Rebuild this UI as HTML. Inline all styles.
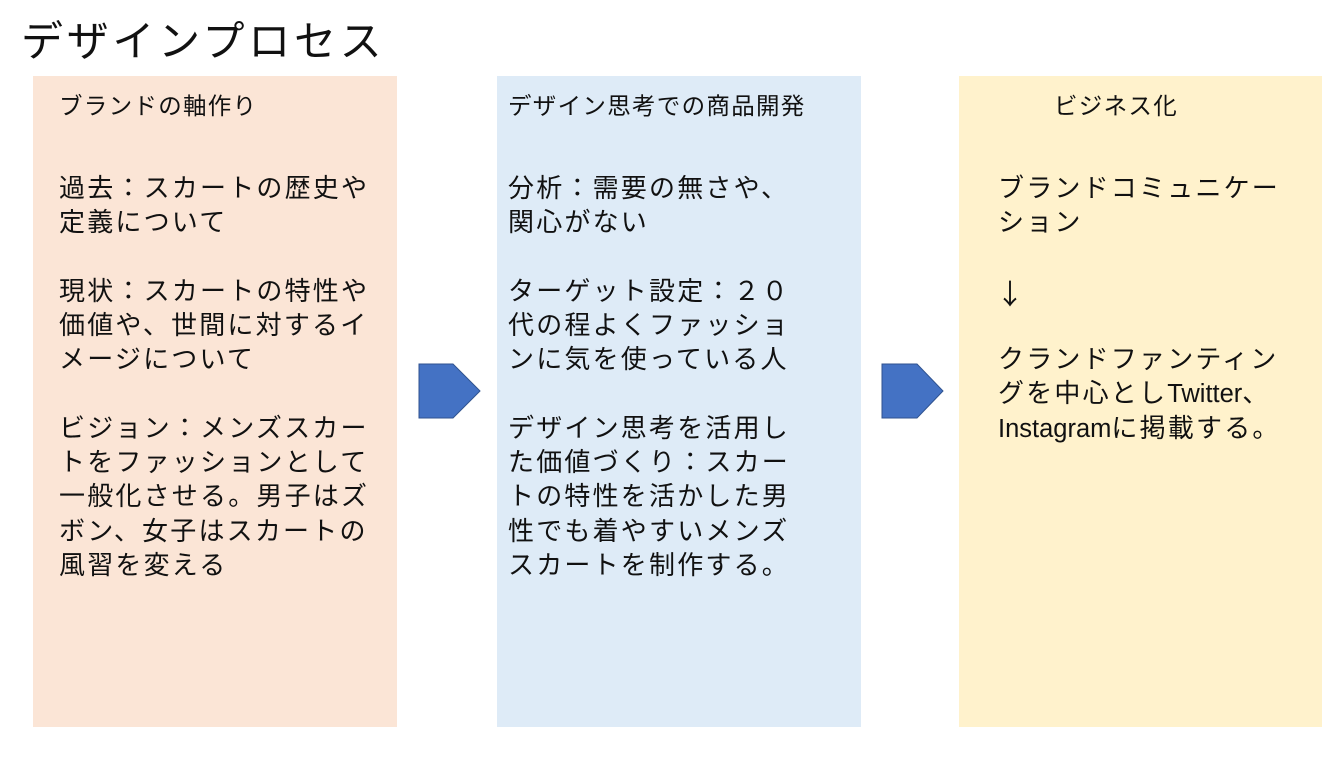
<!DOCTYPE html>
<html>
<head>
<meta charset="utf-8">
<style>
  html, body { margin: 0; padding: 0; background: #ffffff; }
  body { width: 1339px; height: 763px; overflow: hidden; }
  svg { display: block; }
  .t { font-family: "Liberation Sans", "Noto Sans CJK JP", sans-serif; fill: #111; }
  .title { font-size: 42px; letter-spacing: 3.7px; }
  .hd { font-size: 23.5px; letter-spacing: 1.3px; }
  .bd { font-size: 26px; letter-spacing: 2.2px; }
  .lat { font-family: "Liberation Sans", sans-serif; font-size: 25.5px; letter-spacing: 0px; }
  .arr { font-family: "Noto Sans CJK JP", "DejaVu Sans", sans-serif; font-size: 28px; fill: #111; }
</style>
</head>
<body>
<svg width="1339" height="763" viewBox="0 0 1339 763" xmlns="http://www.w3.org/2000/svg">
  <rect x="0" y="0" width="1339" height="763" fill="#ffffff"/>

  <!-- Title -->
  <text class="t title" x="21" y="56">デザインプロセス</text>

  <!-- Boxes -->
  <rect x="33" y="76" width="364" height="651" fill="#FBE5D6"/>
  <rect x="497" y="76" width="364" height="651" fill="#DEEBF7"/>
  <rect x="959" y="76" width="363" height="651" fill="#FFF2CC"/>

  <!-- Pentagon arrows -->
  <polygon points="419,364 453,364 480,391 453,418 419,418" fill="#4472C4" stroke="#2F528F" stroke-width="1"/>
  <polygon points="882,364 917,364 943,391 917,418 882,418" fill="#4472C4" stroke="#2F528F" stroke-width="1"/>

  <!-- Box 1 -->
  <text class="t hd" x="59" y="114">ブランドの軸作り</text>
  <text class="t bd" x="59" y="197">過去：スカートの歴史や</text>
  <text class="t bd" x="59" y="231">定義について</text>
  <text class="t bd" x="59" y="300">現状：スカートの特性や</text>
  <text class="t bd" x="59" y="334">価値や、世間に対するイ</text>
  <text class="t bd" x="59" y="368">メージについて</text>
  <text class="t bd" x="59" y="437">ビジョン：メンズスカー</text>
  <text class="t bd" x="59" y="471">トをファッションとして</text>
  <text class="t bd" x="59" y="505">一般化させる。男子はズ</text>
  <text class="t bd" x="59" y="540">ボン、女子はスカートの</text>
  <text class="t bd" x="59" y="574">風習を変える</text>

  <!-- Box 2 -->
  <text class="t hd" x="508" y="114">デザイン思考での商品開発</text>
  <text class="t bd" x="508" y="197">分析：需要の無さや、</text>
  <text class="t bd" x="508" y="231">関心がない</text>
  <text class="t bd" x="508" y="300">ターゲット設定：２０</text>
  <text class="t bd" x="508" y="334">代の程よくファッショ</text>
  <text class="t bd" x="508" y="368">ンに気を使っている人</text>
  <text class="t bd" x="508" y="437">デザイン思考を活用し</text>
  <text class="t bd" x="508" y="471">た価値づくり：スカー</text>
  <text class="t bd" x="508" y="505">トの特性を活かした男</text>
  <text class="t bd" x="508" y="540">性でも着やすいメンズ</text>
  <text class="t bd" x="508" y="574">スカートを制作する。</text>

  <!-- Box 3 -->
  <text class="t hd" x="1054" y="114">ビジネス化</text>
  <text class="t bd" x="998" y="197">ブランドコミュニケー</text>
  <text class="t bd" x="998" y="231">ション</text>
  <text class="arr" x="996" y="304">↓</text>
  <text class="t bd" x="998" y="368">クランドファンティン</text>
  <text class="t bd" x="998" y="402">グを中心とし<tspan class="lat">Twitter</tspan>、</text>
  <text class="t bd" x="998" y="437"><tspan class="lat">Instagram</tspan>に掲載する。</text>
</svg>
</body>
</html>
